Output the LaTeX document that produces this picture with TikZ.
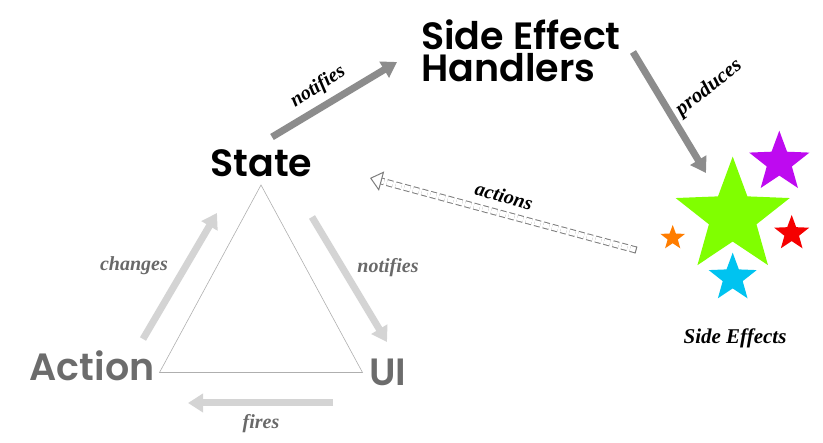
\documentclass[tikz,border=0pt]{standalone}
\usepackage{fontspec}
\newfontfamily\headFont{Poppins}[BoldFont={Poppins SemiBold}]
\newfontfamily\handFont{Liberation Serif}
\definecolor{colorLight}{RGB}{212,212,212}
\definecolor{colorDark}{RGB}{140,140,140}
\definecolor{colorMuted}{RGB}{108,108,108}
\definecolor{colorLabel}{RGB}{105,105,105}
\definecolor{colorEdge}{RGB}{175,175,175}
\definecolor{colorDash}{RGB}{125,125,125}
\definecolor{colorGreen}{RGB}{128,255,0}
\definecolor{colorPurple}{RGB}{190,10,240}
\definecolor{colorRed}{RGB}{245,0,0}
\definecolor{colorOrange}{RGB}{255,125,0}
\definecolor{colorCyan}{RGB}{0,195,240}
\usetikzlibrary{arrows.meta, shapes.geometric, positioning, calc}
\tikzset{
  title/.style={font=\headFont\bfseries\fontsize{38}{32}\selectfont, inner sep=0pt},
  script/.style={font=\handFont\bfseries\itshape\fontsize{20}{22}\selectfont, inner sep=0pt},
  flow/.style={->, line width=7pt, colorLight},
  hook/.style={->, line width=7pt, colorDark},
  spark/.style={star, star points=5, star point ratio=2.4, inner sep=0pt, draw=none},
}

\begin{document}
\begin{tikzpicture}[x=1pt, y=1pt, >={Triangle[length=15pt, width=18pt]}]
\useasboundingbox (0,0) rectangle (823,443);
\node[title, anchor=west, align=left] (handlers) at (421,392.5) {Side Effect\\Handlers};
\node[title, anchor=base] (state) at (261.5,266) {State};
\node[title, anchor=base, text=colorMuted] (action) at (92,62) {Action};
\node[title, anchor=base, text=colorMuted] (ui) at (388,57) {UI};
\coordinate (triTop) at (261,258);
\coordinate (triLeft) at (159.5,70.5);
\coordinate (triRight) at (362.5,70.5);
\draw[colorEdge, line width=0.6pt] (triTop) -- (triLeft) -- (triRight) -- cycle;
\coordinate (chgFrom) at (143,104);
\coordinate (chgTo) at (217,230);
\draw[flow] (chgFrom) -- (chgTo);
\node[script, text=colorLabel] (lChanges) at (134,177) {changes};
\coordinate (ntfFrom) at (312,226);
\coordinate (ntfTo) at (387,101);
\draw[flow] (ntfFrom) -- (ntfTo);
\node[script, text=colorLabel] (lNotifies) at (388,175) {notifies};
\coordinate (fireFrom) at (333,40);
\coordinate (fireTo) at (188,40);
\draw[flow] (fireFrom) -- (fireTo);
\node[script, text=colorLabel] (lFires) at (261,19) {fires};
\coordinate (hdlFrom) at (272,306);
\coordinate (hdlTo) at (397,381);
\draw[hook] (hdlFrom) -- (hdlTo);
\node[script, rotate=33] (lHandlers) at (318,356) {notifies};
\coordinate (prdFrom) at (633,391);
\coordinate (prdTo) at (706,270);
\draw[hook] (prdFrom) -- (prdTo);
\node[script, rotate=38, font=\handFont\bfseries\itshape\fontsize{21}{22}\selectfont] (lProduces) at (709,355) {produces};
\coordinate (actFrom) at (636,193);
\coordinate (actTo) at (370,265);
\draw[colorDash, line width=1pt, dash pattern=on 6pt off 3pt, double=white, double distance=5pt, shorten >=11pt] (actFrom) -- (actTo);
\draw[colorDash, line width=1pt, -{Triangle[fill=white, length=12pt, width=20pt]}] ($(actTo)!12pt!(actFrom)$) -- (actTo);
\draw[colorDash, line width=1pt] ($(actFrom)!3.5pt!90:(actTo)$) -- ($(actFrom)!3.5pt!-90:(actTo)$);
\node[script, rotate=-15] (lActions) at (504,247) {actions};
\node[spark, fill=colorGreen, minimum size=120pt] (bigStar) at (732.7,226.4) {};
\node[spark, fill=colorPurple, minimum size=63.4pt] (purpleStar) at (779.3,280.6) {};
\node[spark, fill=colorRed, minimum size=36.8pt] (redStar) at (791.7,209.6) {};
\node[spark, fill=colorOrange, minimum size=25.8pt] (orangeStar) at (672.7,205.1) {};
\node[spark, fill=colorCyan, minimum size=50.4pt] (cyanStar) at (732.7,165.1) {};
\node[script, font=\handFont\bfseries\itshape\fontsize{21}{22}\selectfont] (lEffects) at (735,105) {Side Effects};
\end{tikzpicture}
\end{document}
